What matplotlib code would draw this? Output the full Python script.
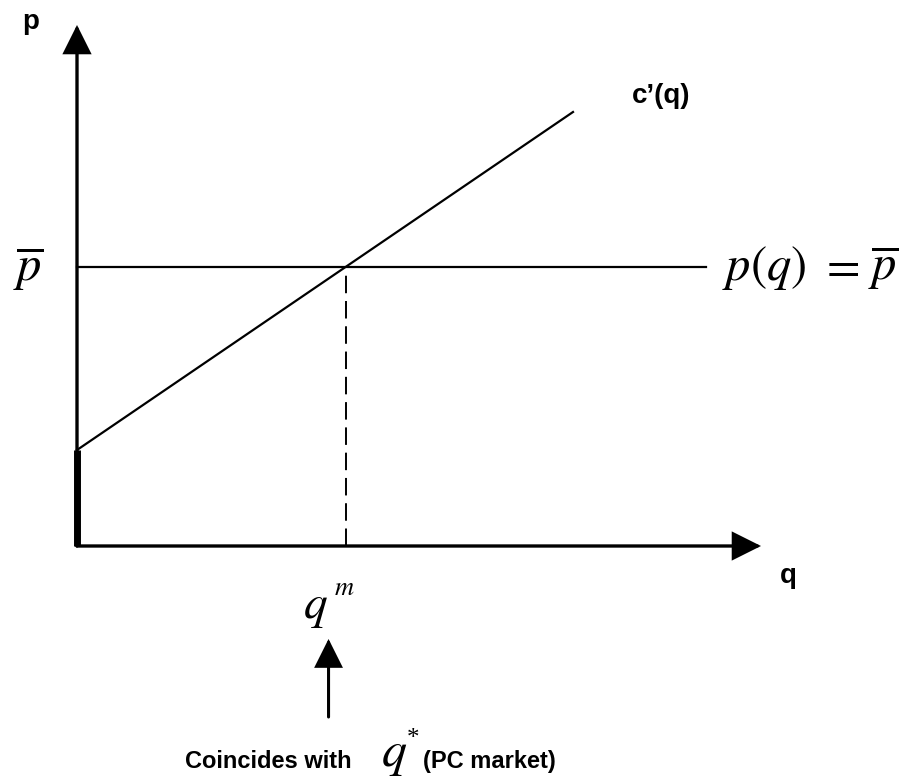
import matplotlib

matplotlib.use('Agg')

from matplotlib import pyplot as plt
from matplotlib.patches import FancyArrowPatch

plt.rcParams['mathtext.fontset'] = 'stix'
plt.rcParams['font.family'] = ['Liberation Sans', 'DejaVu Sans']

# diagram units: origin at the corner of the axes
q_max = 684          # end of the q axis
p_max = 521          # end of the p axis
p_bar = 279          # market price
mc_q = [0, 496]      # c'(q) line, q values
mc_p = [96, 434]     # c'(q) line, p values
price_q = [0, 629]   # p(q) = p_bar line extent

slope = (mc_p[1] - mc_p[0]) / (mc_q[1] - mc_q[0])
q_m = (p_bar - mc_p[0]) / slope


def arrow(ax, start, end, lw=2.4):
  ax.add_patch(FancyArrowPatch(start, end, arrowstyle='-|>', mutation_scale=43,
                               lw=lw, color='black', shrinkA=0, shrinkB=0,
                               joinstyle='miter'))


def main():
  fig = plt.figure(figsize=(9.08, 7.81), dpi=100)
  ax = fig.add_axes([0, 0, 1, 1])
  ax.set_xlim(-77, 831)
  ax.set_ylim(-235, 546)
  ax.axis('off')

  # axes
  arrow(ax, (0, 0), (0, p_max))
  arrow(ax, (0, 0), (q_max, 0))
  ax.plot([0, 0], [0, mc_p[0]], color='black', lw=5, solid_capstyle='butt')

  # curves
  ax.plot(price_q, [p_bar, p_bar], color='black', lw=1.6)
  ax.plot(mc_q, mc_p, color='black', lw=1.6)
  ax.plot([q_m, q_m], [0, p_bar], color='black', lw=1.4, dashes=[9, 4])

  # labels
  ax.text(-55, 517, 'p', fontsize=20, fontweight='bold', va='baseline')
  ax.text(555, 443, 'c\u2019(q)', fontsize=20, fontweight='bold', va='baseline')
  ax.text(703, -37, 'q', fontsize=20, fontweight='bold', va='baseline')

  ax.text(-64, 265, r'$\overline{p}$', fontsize=35, va='baseline')
  ax.text(645, 266, r'$p(q)$', fontsize=35, va='baseline')
  ax.text(762, 266, r'$=$', fontsize=35, va='baseline', ha='center')
  ax.text(791, 266, r'$\overline{p}$', fontsize=35, va='baseline')

  ax.text(226, -72, r'$q$', fontsize=34, va='baseline')
  ax.text(257, -49, r'$m$', fontsize=19, va='baseline')

  arrow(ax, (q_m - 17, -171), (q_m - 17, -93), lw=2.2)

  ax.text(108, -222, 'Coincides with', fontsize=17, fontweight='bold', va='baseline')
  ax.text(304, -220, r'$q$', fontsize=36, va='baseline')
  ax.text(336, -199, '*', fontsize=18, family='Liberation Serif', va='baseline', ha='center')
  ax.text(346, -222, '(PC market)', fontsize=17, fontweight='bold', va='baseline')

  fig.savefig('out.png', dpi=100)


if __name__ == '__main__':
  main()
